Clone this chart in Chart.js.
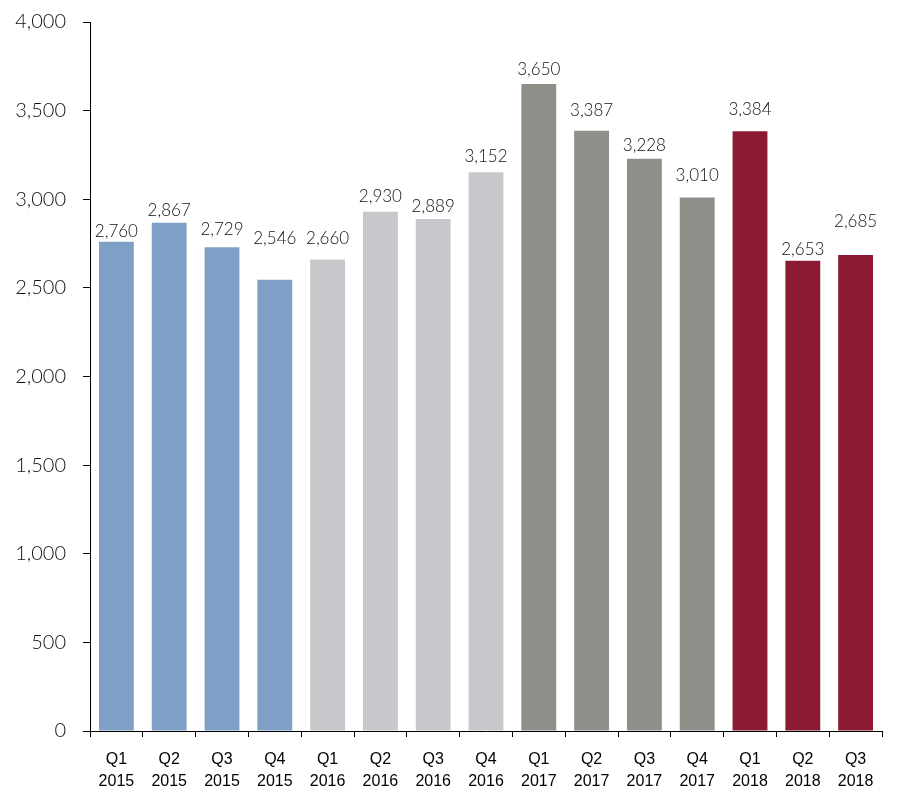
<!DOCTYPE html>
<html lang="en">
<head>
    <meta charset="UTF-8">
    <title>Quarterly chart</title>
    <script src="https://cdn.jsdelivr.net/npm/chart.js"></script>
    <style>
        html, body { margin: 0; padding: 0; background: #fff; }
        #wrap { width: 904px; height: 802px; position: relative; }
    </style>
</head>
<body>
    <div id="wrap"><canvas id="barChart"></canvas></div>

    <script>
        // data
        const quarters = ["Q1", "Q2", "Q3", "Q4", "Q1", "Q2", "Q3", "Q4", "Q1", "Q2", "Q3", "Q4", "Q1", "Q2", "Q3"];
        const years = ["2015", "2015", "2015", "2015", "2016", "2016", "2016", "2016", "2017", "2017", "2017", "2017", "2018", "2018", "2018"];
        const values = [2760, 2867, 2729, 2546, 2660, 2930, 2889, 3152, 3650, 3387, 3228, 3010, 3384, 2653, 2685];
        const yTicks = [0, 500, 1000, 1500, 2000, 2500, 3000, 3500, 4000];

        // the value labels were placed by hand in the original, gap (px) above each bar
        const labelGaps = [5, 7, 12, 36, 16, 10, 7, 10, 9, 15, 8, 16, 16, 6, 28];

        const yearColors = { "2015": "#7fa0c6", "2016": "#c9c7cb", "2017": "#8f8f8a", "2018": "#8c1a32" };

        const fmt = v => v.toLocaleString("en-US");

        // value labels on top of the bars
        const barLabels = {
            id: "barLabels",
            afterDatasetsDraw(chart) {
                const ctx = chart.ctx;
                const meta = chart.getDatasetMeta(0);
                ctx.save();
                ctx.font = "300 17px 'Lato', sans-serif";
                ctx.fillStyle = "#111";
                ctx.textAlign = "center";
                ctx.textBaseline = "alphabetic";
                meta.data.forEach((bar, i) => {
                    ctx.fillText(fmt(values[i]), bar.x, bar.y - labelGaps[i]);
                });
                ctx.restore();
            }
        };

        document.addEventListener("DOMContentLoaded", () => {
            const ctx = document.getElementById("barChart").getContext("2d");

            new Chart(ctx, {
                type: "bar",
                data: {
                    labels: quarters.map((q, i) => [q, years[i]]),
                    datasets: [{
                        data: values,
                        backgroundColor: years.map(y => yearColors[y]),
                        categoryPercentage: 1,
                        barPercentage: 0.66
                    }]
                },
                options: {
                    responsive: true,
                    maintainAspectRatio: false,
                    animation: false,
                    layout: { padding: { top: 22, right: 22, bottom: 0, left: 0 } },
                    plugins: {
                        legend: { display: false },
                        tooltip: { enabled: false }
                    },
                    scales: {
                        x: {
                            grid: {
                                offset: true,
                                drawOnChartArea: false,
                                drawTicks: true,
                                tickLength: 6,
                                color: "#000"
                            },
                            border: { display: true, color: "#000", width: 1 },
                            ticks: {
                                color: "#000",
                                padding: 11,
                                maxRotation: 0,
                                autoSkip: false,
                                font: { family: "'Liberation Sans', sans-serif", size: 16, lineHeight: 1.4 }
                            },
                            afterFit: scale => { scale.height = 71; }
                        },
                        y: {
                            min: 0,
                            max: 4000,
                            afterBuildTicks: scale => { scale.ticks = yTicks.map(v => ({ value: v })); },
                            grid: {
                                drawOnChartArea: false,
                                drawTicks: true,
                                tickLength: 7,
                                color: "#000"
                            },
                            border: { display: true, color: "#000", width: 1 },
                            ticks: {
                                color: "#111",
                                padding: 17,
                                callback: v => fmt(v),
                                font: { family: "'Lato', sans-serif", size: 20, weight: "300" }
                            },
                            afterFit: scale => {
                                scale.width = 90;
                                scale.paddingTop = 0;
                                scale.paddingBottom = 0;
                            }
                        }
                    }
                },
                plugins: [barLabels]
            });
        });
    </script>
</body>
</html>
